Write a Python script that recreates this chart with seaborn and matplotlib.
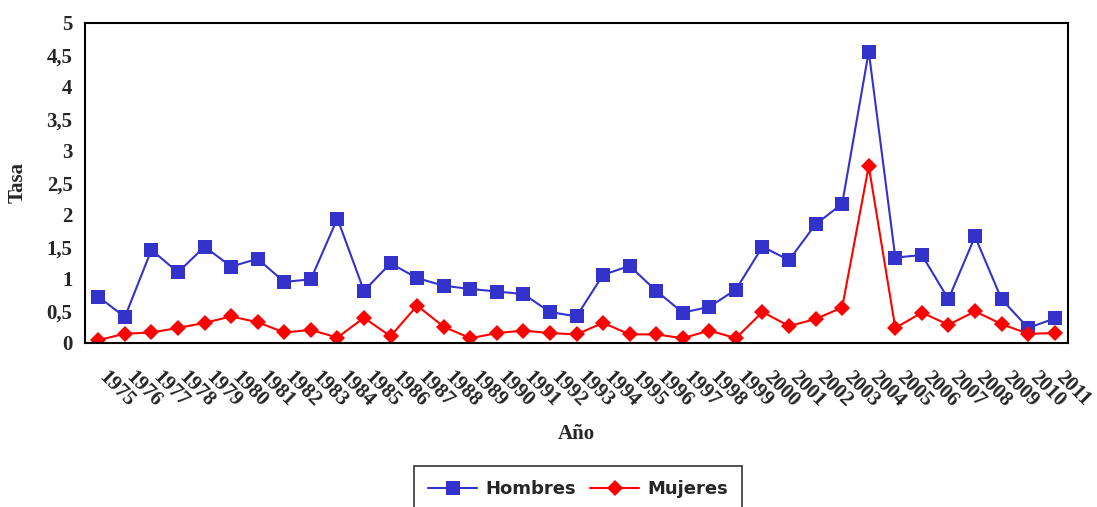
import matplotlib
matplotlib.use("Agg")
import matplotlib.pyplot as plt
import matplotlib.transforms as mtransforms
import seaborn as sns
import pandas as pd
from matplotlib.ticker import FuncFormatter, MultipleLocator

years = list(range(1975, 2012))
hombres = [0.72, 0.40, 1.45, 1.10, 1.50, 1.19, 1.31, 0.95, 0.99, 1.94,
           0.81, 1.24, 1.01, 0.89, 0.84, 0.80, 0.76, 0.48, 0.41, 1.06,
           1.20, 0.81, 0.47, 0.56, 0.83, 1.50, 1.29, 1.85, 2.17, 4.55,
           1.33, 1.37, 0.68, 1.66, 0.68, 0.23, 0.38]
mujeres = [0.04, 0.14, 0.16, 0.23, 0.31, 0.41, 0.32, 0.16, 0.20, 0.08,
           0.39, 0.10, 0.58, 0.25, 0.07, 0.15, 0.19, 0.15, 0.13, 0.31,
           0.13, 0.13, 0.07, 0.19, 0.07, 0.48, 0.26, 0.37, 0.55, 2.76,
           0.23, 0.47, 0.28, 0.49, 0.29, 0.14, 0.15]

df = pd.DataFrame({"Año": years, "Hombres": hombres, "Mujeres": mujeres})

sns.set_style("white")
plt.rcParams["font.family"] = ["Liberation Serif", "DejaVu Serif"]

fig = plt.figure(figsize=(10.97, 5.07), dpi=100)
ax = fig.add_axes([85 / 1097, 1 - 342.7 / 507, (1068 - 85) / 1097, 320 / 507])

sns.lineplot(data=df, x="Año", y="Hombres", ax=ax, color="#3333CC", marker="s",
             markersize=10, markeredgewidth=0, linewidth=1.5, label="Hombres")
sns.lineplot(data=df, x="Año", y="Mujeres", ax=ax, color="#FF0000", marker="D",
             markersize=8, markeredgewidth=0, linewidth=1.5, label="Mujeres")

ax.set_xlim(years[0] - 0.5, years[-1] + 0.5)
ax.set_ylim(0, 5)
ax.yaxis.set_major_locator(MultipleLocator(0.5))
ax.yaxis.set_major_formatter(FuncFormatter(lambda v, p: f"{v:g}".replace(".", ",")))

ax.set_xticks(years)
ax.set_xticks([y - 0.5 for y in years] + [years[-1] + 0.5], minor=True)
ax.tick_params(axis="x", which="major", length=0, pad=18)
ax.tick_params(axis="x", which="minor", length=5, width=1.5, direction="out", color="black")
ax.tick_params(axis="y", length=5, width=1.5, direction="out", color="black", labelsize=15, pad=4)
shift = mtransforms.ScaledTranslation(8 / 72, 0, fig.dpi_scale_trans)
for lbl in ax.get_xticklabels():
    lbl.set_rotation(-45)
    lbl.set_ha("left")
    lbl.set_va("top")
    lbl.set_rotation_mode("anchor")
    lbl.set_fontsize(15)
    lbl.set_fontweight("bold")
    lbl.set_transform(lbl.get_transform() + shift)
for lbl in ax.get_yticklabels():
    lbl.set_fontweight("bold")

for s in ax.spines.values():
    s.set_color("black")
    s.set_linewidth(1.5)

ax.set_xlabel("Año", fontsize=15, fontweight="bold")
ax.xaxis.set_label_coords(0.5, -0.255)
ax.set_ylabel("Tasa", fontsize=15, fontweight="bold")
ax.yaxis.set_label_coords(-0.058, 0.5)

ax.legend_.remove()
handles, labels = ax.get_legend_handles_labels()
leg = fig.legend(handles, labels, loc="upper center", bbox_to_anchor=(0.527, 1 - 466 / 507),
                 ncol=2, frameon=True, fancybox=False, edgecolor="black",
                 handlelength=2.7, handletextpad=0.45, columnspacing=0.8,
                 borderpad=0.8, borderaxespad=0,
                 prop={"family": "DejaVu Sans", "weight": "bold", "size": 13})
leg.get_frame().set_linewidth(1.2)

fig.savefig("out.png", dpi=100)
